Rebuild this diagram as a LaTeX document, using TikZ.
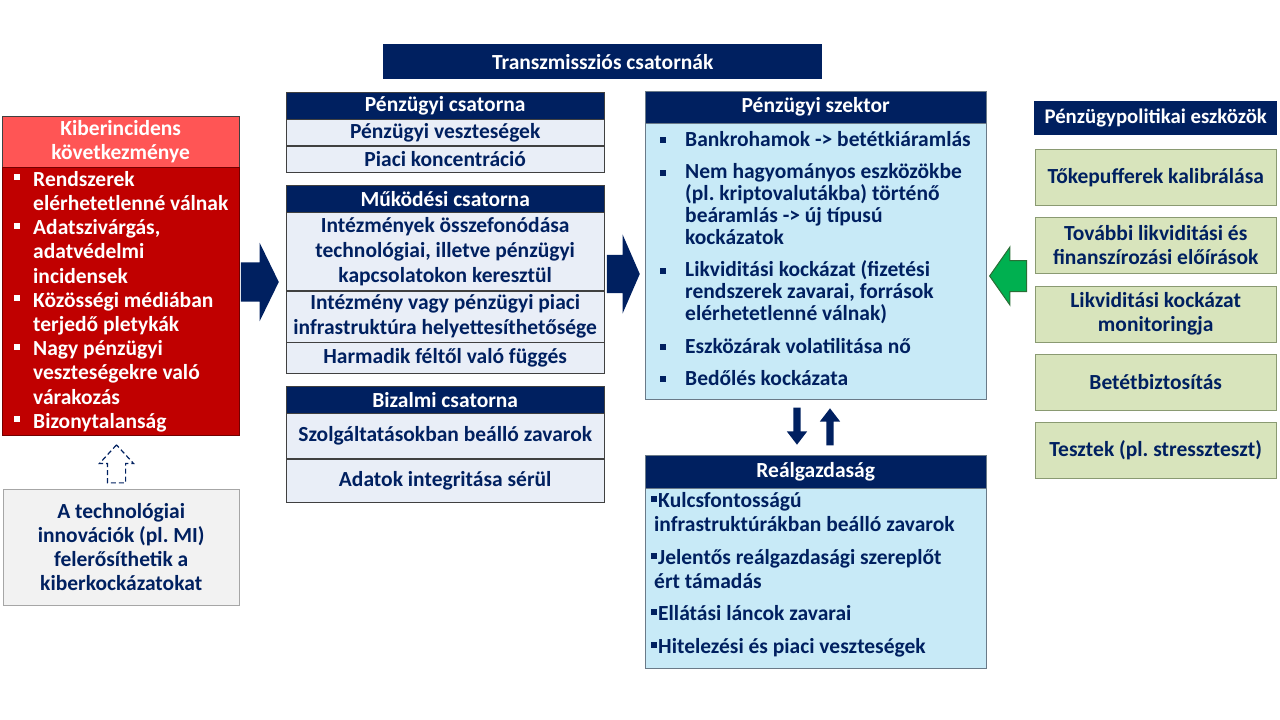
\documentclass[tikz,border=0pt]{standalone}
\usepackage{fontspec}
\setmainfont{Carlito}
\usetikzlibrary{shapes.arrows}

\definecolor{navy}{HTML}{002060}
\definecolor{rowline}{HTML}{404040}
\definecolor{rowfill}{HTML}{E9EEF7}
\definecolor{redlt}{HTML}{FF5555}
\definecolor{redbd}{HTML}{C00000}
\definecolor{skyfill}{HTML}{C8EAF7}
\definecolor{skyline}{HTML}{6A7A88}
\definecolor{greenfill}{HTML}{D8E4BC}
\definecolor{greenline}{HTML}{8A9A72}
\definecolor{grayfill}{HTML}{F2F2F2}
\definecolor{grayline}{HTML}{A6A6A6}
\definecolor{arrgreen}{HTML}{00B050}
\definecolor{arrgreenline}{HTML}{2A6E36}

% bullet with box width and raise
\newcommand\bl[2]{\makebox[#1pt][l]{\rule[#2pt]{6pt}{6pt}}}
\newcommand\ind[1]{\hspace*{#1pt}}

\begin{document}
\frenchspacing
\begin{tikzpicture}[x=1pt,y=-1pt,
    every node/.style={inner sep=0pt,font=\fontsize{21.5}{25}\selectfont\bfseries},
    hdr/.style={draw=rowline,fill=navy,text=white,anchor=north west,
        minimum width=318,minimum height=27},
    row/.style={draw=rowline,fill=rowfill,text=navy,anchor=north west,
        align=center,minimum width=318},
    lst/.style={anchor=north west,align=left},
    grn/.style={draw=greenline,fill=greenfill,text=navy,anchor=north west,
        align=center,minimum width=241,minimum height=56,
        font=\fontsize{21.5}{24}\selectfont\bfseries},
    blk/.style={single arrow,fill=navy,single arrow head indent=0pt,anchor=tip}]
    \useasboundingbox (0,0) rectangle (1280,720);

    % Cím
    \node[hdr,draw=none,minimum width=439,minimum height=35] (trans) at (383,44)
        {Transzmissziós csatornák};

    % Csatornák
    \node[hdr] (penzH) at (286,92) {Pénzügyi csatorna};
    \node[row,minimum height=26] (penz1) at (penzH.south west) {Pénzügyi veszteségek};
    \node[row,minimum height=26] (penz2) at (penz1.south west) {Piaci koncentráció};

    \node[hdr] (mukH) at (286,185) {Működési csatorna};
    \node[row,minimum height=78] (muk1) at (mukH.south west)
        {Intézmények összefonódása\\technológiai, illetve pénzügyi\\kapcsolatokon keresztül};
    \node[row,minimum height=51] (muk2) at (muk1.south west)
        {Intézmény vagy pénzügyi piaci\\infrastruktúra helyettesíthetősége};
    \node[row,minimum height=31] (muk3) at (muk2.south west) {Harmadik féltől való függés};

    \node[hdr] (bizH) at (286,386) {Bizalmi csatorna};
    \node[row,minimum height=45] (biz1) at (bizH.south west) {Szolgáltatásokban beálló zavarok};
    \node[row,minimum height=43] (biz2) at (biz1.south west) {Adatok integritása sérül};

    % Kiberincidens
    \node[draw=rowline,fill=redlt,text=white,anchor=north west,align=center,
        minimum width=237,minimum height=51,font=\fontsize{21.5}{24}\selectfont\bfseries]
        (kibH) at (2,116) {Kiberincidens\\következménye};
    \node[draw=redbd!60!black,fill=redbd,anchor=north west,minimum width=237,
        minimum height=268] (kib) at (kibH.south west) {};
    \node[lst,text=white,font=\fontsize{21.5}{24.2}\selectfont\bfseries] (kibL) at (14,171)
        {\bl{19}{6}Rendszerek\\
         \ind{19}elérhetetlenné válnak\\
         \bl{19}{6}Adatszivárgás,\\
         \ind{19}adatvédelmi\\
         \ind{19}incidensek\\
         \bl{19}{6}Közösségi médiában\\
         \ind{19}terjedő pletykák\\
         \bl{19}{6}Nagy pénzügyi\\
         \ind{19}veszteségekre való\\
         \ind{19}várakozás\\
         \bl{19}{6}Bizonytalanság};

    \node[draw=grayline,fill=grayfill,text=navy,anchor=north west,align=center,
        minimum width=236,minimum height=116,font=\fontsize{21.5}{24}\selectfont\bfseries]
        (tech) at (3,489) {A technológiai\\innovációk (pl. MI)\\felerősíthetik a\\kiberkockázatokat};
    \node[single arrow,draw=navy,dash pattern=on 5pt off 3pt,line width=1.2pt,
        shape border rotate=90,single arrow head indent=0pt,inner xsep=8.5pt,
        inner ysep=0pt,single arrow head extend=8pt,single arrow tip angle=85,
        minimum height=38,anchor=tip] (dash) at (116.5,444) {};

    % Pénzügyi szektor
    \node[hdr,draw=skyline,minimum width=341,minimum height=32] (finH) at (645,91)
        {Pénzügyi szektor};
    \node[draw=skyline,fill=skyfill,anchor=north west,minimum width=341,
        minimum height=276] (fin) at (finH.south west) {};
    \node[lst,text=navy,font=\fontsize{21.5}{22}\selectfont\bfseries] (finL) at (660,131)
        {\bl{25}{3}Bankrohamok -> betétkiáramlás\\[10.5pt]
         \bl{25}{3}Nem hagyományos eszközökbe\\
         \ind{25}(pl. kriptovalutákba) történő\\
         \ind{25}beáramlás -> új típusú\\
         \ind{25}kockázatok\\[10pt]
         \bl{25}{3}Likviditási kockázat (fizetési\\
         \ind{25}rendszerek zavarai, források\\
         \ind{25}elérhetetlenné válnak)\\[10.5pt]
         \bl{25}{3}Eszközárak volatilitása nő\\[10pt]
         \bl{25}{3}Bedőlés kockázata};

    % Reálgazdaság
    \node[hdr,draw=skyline,minimum width=341,minimum height=33] (realH) at (645,455)
        {Reálgazdaság};
    \node[draw=skyline,fill=skyfill,anchor=north west,minimum width=341,
        minimum height=180] (real) at (realH.south west) {};
    \node[lst,text=navy,font=\fontsize{21.5}{24}\selectfont\bfseries] (realL) at (651,492)
        {\bl{7}{5}Kulcsfontosságú\\
         \ind{3}infrastruktúrákban beálló zavarok\\[9pt]
         \bl{7}{5}Jelentős reálgazdasági szereplőt\\
         \ind{3}ért támadás\\[8pt]
         \bl{7}{5}Ellátási láncok zavarai\\[9pt]
         \bl{7}{5}Hitelezési és piaci veszteségek};

    % Pénzügypolitikai eszközök
    \node[hdr,draw=none,minimum width=243,minimum height=34,
        font=\fontsize{20.8}{25}\selectfont\bfseries] (polH) at (1034,101)
        {Pénzügypolitikai eszközök};
    \foreach \txt [count=\i] in {{Tőkepufferek kalibrálása},
        {További likviditási és\\finanszírozási előírások},
        {Likviditási kockázat\\monitoringja},
        {Betétbiztosítás},
        {Tesztek (pl. stresszteszt)}} {
        \node[grn] (pol\i) at (1035,{149+(\i-1)*68.25}) {\txt};
    }

    % Nyilak
    \node[blk,inner xsep=0pt,inner ysep=19.5pt,single arrow head extend=19.5pt,
        single arrow tip angle=128,minimum height=38] (arrA) at (279,282) {};
    \node[blk,inner xsep=0pt,inner ysep=19pt,single arrow head extend=20.5pt,
        single arrow tip angle=133,minimum height=33] (arrB) at (640,274) {};
    \node[blk,fill=arrgreen,draw=arrgreenline,line width=1pt,shape border rotate=180,
        inner xsep=0pt,inner ysep=15pt,single arrow head extend=13.5pt,
        single arrow tip angle=110,minimum height=37] (arrG) at (989,276) {};
    \node[blk,shape border rotate=270,inner xsep=3.5pt,inner ysep=0pt,
        single arrow head extend=6.5pt,single arrow tip angle=75,minimum height=37]
        (down) at (797,445) {};
    \node[blk,shape border rotate=90,inner xsep=3.5pt,inner ysep=0pt,
        single arrow head extend=6.5pt,single arrow tip angle=75,minimum height=37]
        (up) at (830,408) {};
\end{tikzpicture}
\end{document}
